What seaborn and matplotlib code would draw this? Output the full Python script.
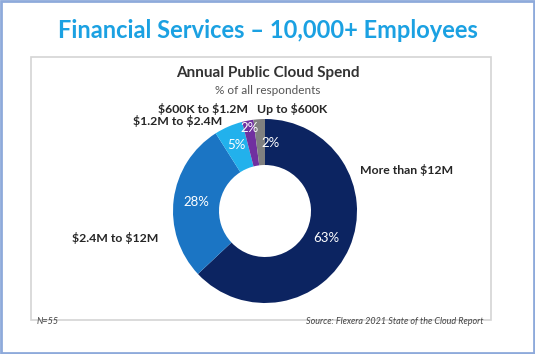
import numpy as np
import matplotlib.pyplot as plt
import seaborn as sns
from matplotlib.patches import Rectangle

# ── data ──────────────────────────────────────────────────────────────────────
categories = ['More than $12M', '$2.4M to $12M', '$1.2M to $2.4M',
              '$600K to $1.2M', 'Up to $600K']
shares = [63, 28, 5, 2, 2]
colors = ['#0c2461', '#1b75c4', '#22b1ec', '#7030a0', '#808080']

sns.set_theme(style='white')
plt.rcParams['font.family'] = ['Lato', 'DejaVu Sans']
plt.rcParams['text.parse_math'] = False   # keep the dollar signs literal

W, H = 535, 354
fig = plt.figure(figsize=(W / 100, H / 100), dpi=100)

# outer frame and inner panel
fig.patches.append(Rectangle((1 / W, 1 / H), 1 - 2 / W, 1 - 2 / H, transform=fig.transFigure,
                             fill=False, edgecolor='#8eaadb', linewidth=2))
fig.patches.append(Rectangle((31 / W, 1 - 320 / H), 460 / W, 263 / H, transform=fig.transFigure,
                             fill=False, edgecolor='#d4d4d4', linewidth=1.2))

fig.text(0.5, 1 - 31 / H, 'Financial Services – 10,000+ Employees', ha='center', va='center',
         fontsize=17, fontweight='bold', color='#1ba1e2')
fig.text(0.5, 1 - 73 / H, 'Annual Public Cloud Spend', ha='center', va='center',
         fontsize=11, fontweight='bold', color='#333333')
fig.text(0.5, 1 - 90 / H, '% of all respondents', ha='center', va='center',
         fontsize=8.5, color='#555555')
fig.text(37 / W, 1 - 322 / H, 'N=55', ha='left', va='center', fontsize=6.5,
         style='italic', color='#444444')
fig.text(484 / W, 1 - 322 / H, 'Source: Flexera 2021 State of the Cloud Report', ha='right',
         va='center', fontsize=6.5, style='italic', color='#444444')

# ── donut ─────────────────────────────────────────────────────────────────────
cx, cy, r = 265, 211, 92
ax = fig.add_axes([(cx - r) / W, 1 - (cy + r) / H, 2 * r / W, 2 * r / H])
wedges, _ = ax.pie(shares, colors=colors, startangle=90, counterclock=False,
                   wedgeprops=dict(width=0.5, edgecolor='none'))
ax.set_xlim(-1, 1); ax.set_ylim(-1, 1)
ax.set_aspect('equal')
ax.axis('off')

# percent labels (radius, angle tweak for the thin slices)
pct_pos = [(0.73, 0), (0.75, 0), (0.78, 0), (0.92, 0), (0.74, -8)]
for w, v, (rr, da) in zip(wedges, shares, pct_pos):
    ang = np.deg2rad((w.theta1 + w.theta2) / 2 + da)
    ax.text(rr * np.cos(ang), rr * np.sin(ang), f'{v}%', ha='center', va='center',
            color='white', fontsize=9.5)

# category labels outside the ring
lab_pos = [(1.03, 0.45, 'left'), (-1.16, -0.29, 'right'), (-0.46, 0.98, 'right'),
           (-0.18, 1.11, 'right'), (-0.09, 1.11, 'left')]
for name, (x, y, ha) in zip(categories, lab_pos):
    ax.text(x, y, name, ha=ha, va='center', fontsize=8.8, fontweight='bold',
            color='#262626', clip_on=False)

plt.savefig('out.png', dpi=100)
